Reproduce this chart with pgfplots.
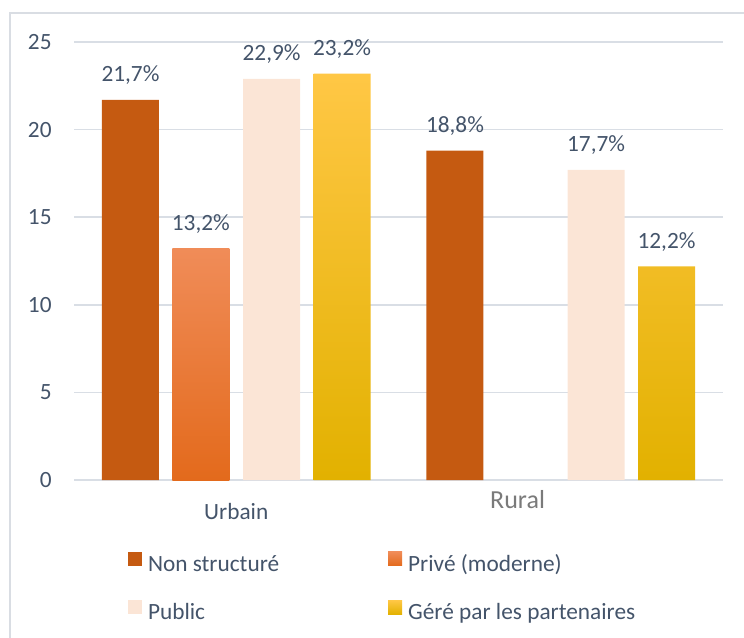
\documentclass[border=0pt]{standalone}
\usepackage{fontspec}
\setmainfont{Carlito}
\usepackage{pgfplots}
\pgfplotsset{compat=1.18}
\definecolor{textcol}{HTML}{44546A}
\definecolor{ruralcol}{HTML}{7A7A7A}
\definecolor{gridcol}{HTML}{D9DEE5}
\definecolor{framecol}{HTML}{D9DDE3}
\definecolor{c1}{HTML}{C55A11}
\definecolor{c2top}{HTML}{F08C58}
\definecolor{c2bot}{HTML}{E36A1C}
\definecolor{c3}{HTML}{FBE5D6}
\definecolor{c4top}{HTML}{FFC745}
\definecolor{c4mid}{HTML}{FFC000}
\definecolor{c4bot}{HTML}{E2B100}
\begin{document}
\begin{tikzpicture}[font=\fontsize{11.65pt}{14pt}\selectfont]
\clip (0,0) rectangle (372pt,-318.5pt);
\draw[framecol,line width=0.75pt] (5pt,-6.5pt) rectangle (400pt,-340pt);
\begin{axis}[
  at={(37pt,-240pt)}, anchor=south west,
  scale only axis, width=324.5pt, height=219pt,
  xmin=-0.5, xmax=1.5, ymin=0, ymax=25,
  clip=false,
  ytick={0,5,10,15,20,25},
  xtick=\empty,
  ymajorgrids,
  major grid style={draw=gridcol,line width=0.75pt},
  axis line style={draw=none},
  major tick length=0pt,
  tick label style={text=textcol},
  yticklabel style={inner sep=0pt, xshift=-11pt, anchor=east},
  /pgf/number format/assume math mode=true,
  ybar, bar width=0.1757,
  nodes near coords={\pgfmathprintnumber[fixed,fixed zerofill,precision=1,use comma,assume math mode=true]{\pgfplotspointmeta}\%},
  every node near coord/.append style={text=textcol, anchor=base, inner sep=0pt, yshift=9pt},
  legend columns=2,
  legend image code/.code={\path[#1,draw=none] (0pt,0pt) rectangle (7pt,7pt);},
  legend style={at={(axis description cs:0.0832,-0.164)}, anchor=north west, draw=none, fill=none,
    inner sep=0pt, outer sep=0pt, row sep=12pt,
    nodes={inner sep=0pt, text=textcol, text height=8pt, text depth=2.5pt},
    /tikz/every odd column/.append style={column sep=3pt},
    /tikz/every even column/.append style={column sep=54.5pt}},
  legend cell align=left,
]
\addplot[draw=none, fill=c1, bar shift=-0.326] coordinates {(0,21.7) (1,18.8)};
\addlegendentry{Non structuré}
\addplot[draw=none, top color=c2top, bottom color=c2bot, bar shift=-0.109] coordinates {(0,13.2)};
\addlegendentry{Privé (moderne)}
\addplot[draw=none, fill=c3, bar shift=0.109] coordinates {(0,22.9) (1,17.7)};
\addlegendentry{Public}
\addplot[draw=none, top color=c4top, middle color=c4mid, bottom color=c4bot, bar shift=0.326] coordinates {(0,23.2) (1,12.2)};
\addlegendentry{Géré par les partenaires}
\node[text=textcol, anchor=base, inner sep=0pt] at (axis cs:0,0) [yshift=-19.5pt] {Urbain};
\node[text=ruralcol, anchor=base, inner sep=0pt, font=\fontsize{13pt}{15pt}\selectfont] at (axis cs:0.867,0) [yshift=-14pt] {Rural};
\end{axis}
\end{tikzpicture}
\end{document}
